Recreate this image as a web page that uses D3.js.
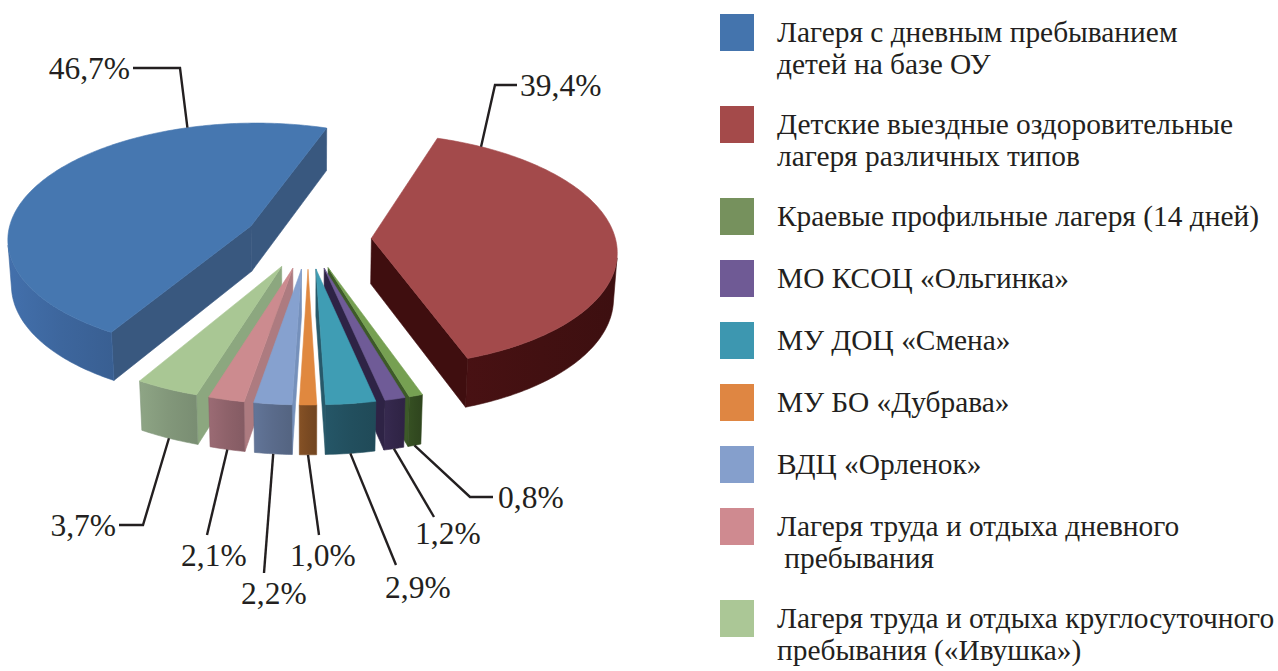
<!DOCTYPE html>
<html>
<head>
<meta charset="utf-8">
<script src="https://cdn.jsdelivr.net/npm/d3@7"></script>
<style>
  html, body { margin: 0; padding: 0; background: #fff; }
  svg { display: block; }
</style>
</head>
<body>
<svg id="chart" width="1278" height="671"></svg>
<script>
// Data
const categories = [
  'Лагеря с дневным пребыванием\nдетей на базе ОУ',
  'Детские выездные оздоровительные\nлагеря различных типов',
  'Краевые профильные лагеря (14 дней)',
  'МО КСОЦ «Ольгинка»',
  'МУ ДОЦ «Смена»',
  'МУ БО «Дубрава»',
  'ВДЦ «Орленок»',
  'Лагеря труда и отдыха дневного\n пребывания',
  'Лагеря труда и отдыха круглосуточного\nпребывания («Ивушка»)'
];
const values = [46.7, 39.4, 0.8, 1.2, 2.9, 1.0, 2.2, 2.1, 3.7];

// Palette: top face, outer rim, radial cut faces
const topColors    = ['#4677b0', '#a34a4b', '#76a052', '#6f5b97', '#3f9db4', '#e0883f', '#86a1cf', '#cc8b8f', '#a9c794'];
const rimColors    = ['#3d669d', '#421011', '#324a20', '#322649', '#224f5e', '#7a4a22', '#5a6b8b', '#8e626a', '#82977a'];
const cutColors    = ['#39587f', '#3f0e0f', '#3d5a28', '#2e2345', '#27596a', '#8a5428', '#7590bb', '#ad7b80', '#8ca77f'];
const legendColors = ['#4474ad', '#a44a4a', '#76915d', '#6f5a95', '#3d97b0', '#df8642', '#859fcc', '#cf8a90', '#abc796'];

// Data label placement (text position + leader bend)
const labelLayout = [
  { x: 130, y: 79,  anchor: 'end',   bend: [[133, 68], [180, 68]] },
  { x: 520, y: 96,  anchor: 'start', bend: [[517, 85], [495, 85]] },
  { x: 498, y: 508, anchor: 'start', bend: [[493, 497], [470, 497]] },
  { x: 415, y: 544, anchor: 'start', bend: [[434, 517]] },
  { x: 385, y: 598, anchor: 'start', bend: [[396, 565]] },
  { x: 290, y: 566, anchor: 'start', bend: [[319, 535]] },
  { x: 241, y: 604, anchor: 'start', bend: [[264, 573]] },
  { x: 181, y: 566, anchor: 'start', bend: [[207, 535]] },
  { x: 116, y: 536, anchor: 'end',   bend: [[119, 525], [143, 525]] }
];

const serif = '"Liberation Serif", "DejaVu Serif", serif';
const svg = d3.select('#chart');
const deg = Math.PI / 180;

// 3D view settings
const startAngle = 210.6 * deg;
const tilt = 29.5 * deg;
const camDist = 8.8;
const explode = 0.26;
const thick = 0.215;
const radius = 241;
const cx = 308, cy = 284;

const sinT = Math.sin(tilt), cosT = Math.cos(tilt);
const cam = [0, camDist * sinT, camDist * cosT];

const xScale = d3.scaleLinear().domain([0, 1]).range([cx, cx + radius]);
const yScale = d3.scaleLinear().domain([0, 1]).range([cy, cy + radius]);

const fmt = d3.formatLocale({ decimal: ',', thousands: ' ', grouping: [3], currency: ['', ''] }).format('.1f');

const pie = d3.pie().sort(null).value(d => d)
  .startAngle(startAngle).endAngle(startAngle + 2 * Math.PI);
const arcs = pie(values);

function world(a, r, y, m) {
  return [r * Math.sin(a) + explode * Math.sin(m), y, -r * Math.cos(a) - explode * Math.cos(m)];
}
function proj(p) {
  const d = p[1] * sinT + p[2] * cosT;
  const f = camDist / (camDist - d);
  return [xScale(p[0] * f), yScale((p[2] * sinT - p[1] * cosT) * f)];
}
// is a vertical face with outward direction a, through point p, turned to the camera?
function facing(p, a) {
  return Math.sin(a) * (cam[0] - p[0]) - Math.cos(a) * (cam[2] - p[2]) > 0;
}
function depth(p) { return p[1] * sinT + p[2] * cosT; }

const poly = d3.line().curve(d3.curveLinearClosed);

// soft horizontal shading on the rims, like the original 3D render
const defs = svg.append('defs');
rimColors.forEach((c, i) => {
  const gr = defs.append('linearGradient').attr('id', 'rim' + i)
    .attr('x1', 0).attr('x2', 1).attr('y1', 0).attr('y2', 0);
  gr.append('stop').attr('offset', 0).attr('stop-color', d3.color(c).brighter(0.25));
  gr.append('stop').attr('offset', 0.5).attr('stop-color', c);
  gr.append('stop').attr('offset', 1).attr('stop-color', d3.color(c).darker(0.2));
});

const slices = arcs.map((d, i) => {
  const a0 = d.startAngle, a1 = d.endAngle, m = (a0 + a1) / 2;
  const n = Math.max(2, Math.ceil((a1 - a0) / deg));
  const angles = d3.range(n + 1).map(k => a0 + (a1 - a0) * k / n);
  return { d, i, a0, a1, m, angles, z: depth(world(m, 0.6, 0, m)) };
});

const pieG = svg.append('g');

slices.sort((a, b) => a.z - b.z).forEach(s => {
  const g = pieG.append('g');
  const { a0, a1, m, angles, i } = s;
  const apexT = world(0, 0, thick, m), apexB = world(0, 0, 0, m);

  // radial cut faces
  [[a0, a0 - Math.PI / 2], [a1, a1 + Math.PI / 2]].forEach(([a, na]) => {
    const pts = [apexT, world(a, 1, thick, m), world(a, 1, 0, m), apexB];
    const c = [(pts[0][0] + pts[1][0]) / 2, thick / 2, (pts[0][2] + pts[1][2]) / 2];
    if (!facing(c, na)) return;
    g.append('path').attr('d', poly(pts.map(proj)))
      .attr('fill', cutColors[i]).attr('stroke', cutColors[i]).attr('stroke-width', 0.6);
  });

  // outer rim, visible part only
  let run = [];
  const runs = [];
  angles.forEach(a => {
    if (facing(world(a, 1, thick / 2, m), a)) run.push(a);
    else if (run.length) { runs.push(run); run = []; }
  });
  if (run.length) runs.push(run);
  runs.filter(r => r.length > 1).forEach(r => {
    const pts = r.map(a => world(a, 1, thick, m)).concat(r.slice().reverse().map(a => world(a, 1, 0, m)));
    g.append('path').attr('d', poly(pts.map(proj)))
      .attr('fill', `url(#rim${i})`).attr('stroke', rimColors[i]).attr('stroke-width', 0.6);
  });

  // top face
  const topPts = [apexT].concat(angles.map(a => world(a, 1, thick, m)));
  g.append('path').attr('d', poly(topPts.map(proj)))
    .attr('fill', topColors[i]).attr('stroke', topColors[i]).attr('stroke-width', 0.6);

  s.topArc = angles.map(a => proj(world(a, 1, thick, m)));
  s.bottomMid = proj(world(m, 1, 0, m));
});

// data labels with leader lines
const byIndex = slices.slice().sort((a, b) => a.i - b.i);
const labelG = svg.append('g');
byIndex.forEach(s => {
  const L = labelLayout[s.i];
  const last = L.bend[L.bend.length - 1];
  let anchor;
  if (-Math.cos(s.m) > 0.5) {
    anchor = s.bottomMid;
  } else {
    anchor = s.topArc.reduce((best, p) =>
      (Math.hypot(p[0] - last[0], p[1] - last[1]) < Math.hypot(best[0] - last[0], best[1] - last[1]) ? p : best));
  }
  labelG.append('path')
    .attr('d', d3.line()(L.bend.concat([anchor])))
    .attr('fill', 'none').attr('stroke', '#231f20').attr('stroke-width', 2.4);
  labelG.append('text')
    .attr('x', L.x).attr('y', L.y)
    .attr('text-anchor', L.anchor)
    .attr('font-family', serif).attr('font-size', 31.5).attr('fill', '#231f20')
    .text(fmt(values[s.i]) + '%');
});

// legend
const legend = svg.append('g').attr('transform', 'translate(720,14)');
let ly = 0;
categories.forEach((c, i) => {
  const lines = c.split('\n');
  const row = legend.append('g').attr('transform', `translate(0,${ly})`);
  row.append('rect').attr('width', 34).attr('height', 37).attr('fill', legendColors[i]);
  const t = row.append('text').attr('x', 57).attr('y', 28)
    .attr('font-family', serif).attr('font-size', 29.4).attr('fill', '#231f20')
    .style('white-space', 'pre');
  lines.forEach((ln, k) => t.append('tspan').attr('x', 57).attr('dy', k ? 32 : 0).text(ln));
  ly += 62 + 30 * (lines.length - 1);
});
</script>
</body>
</html>
